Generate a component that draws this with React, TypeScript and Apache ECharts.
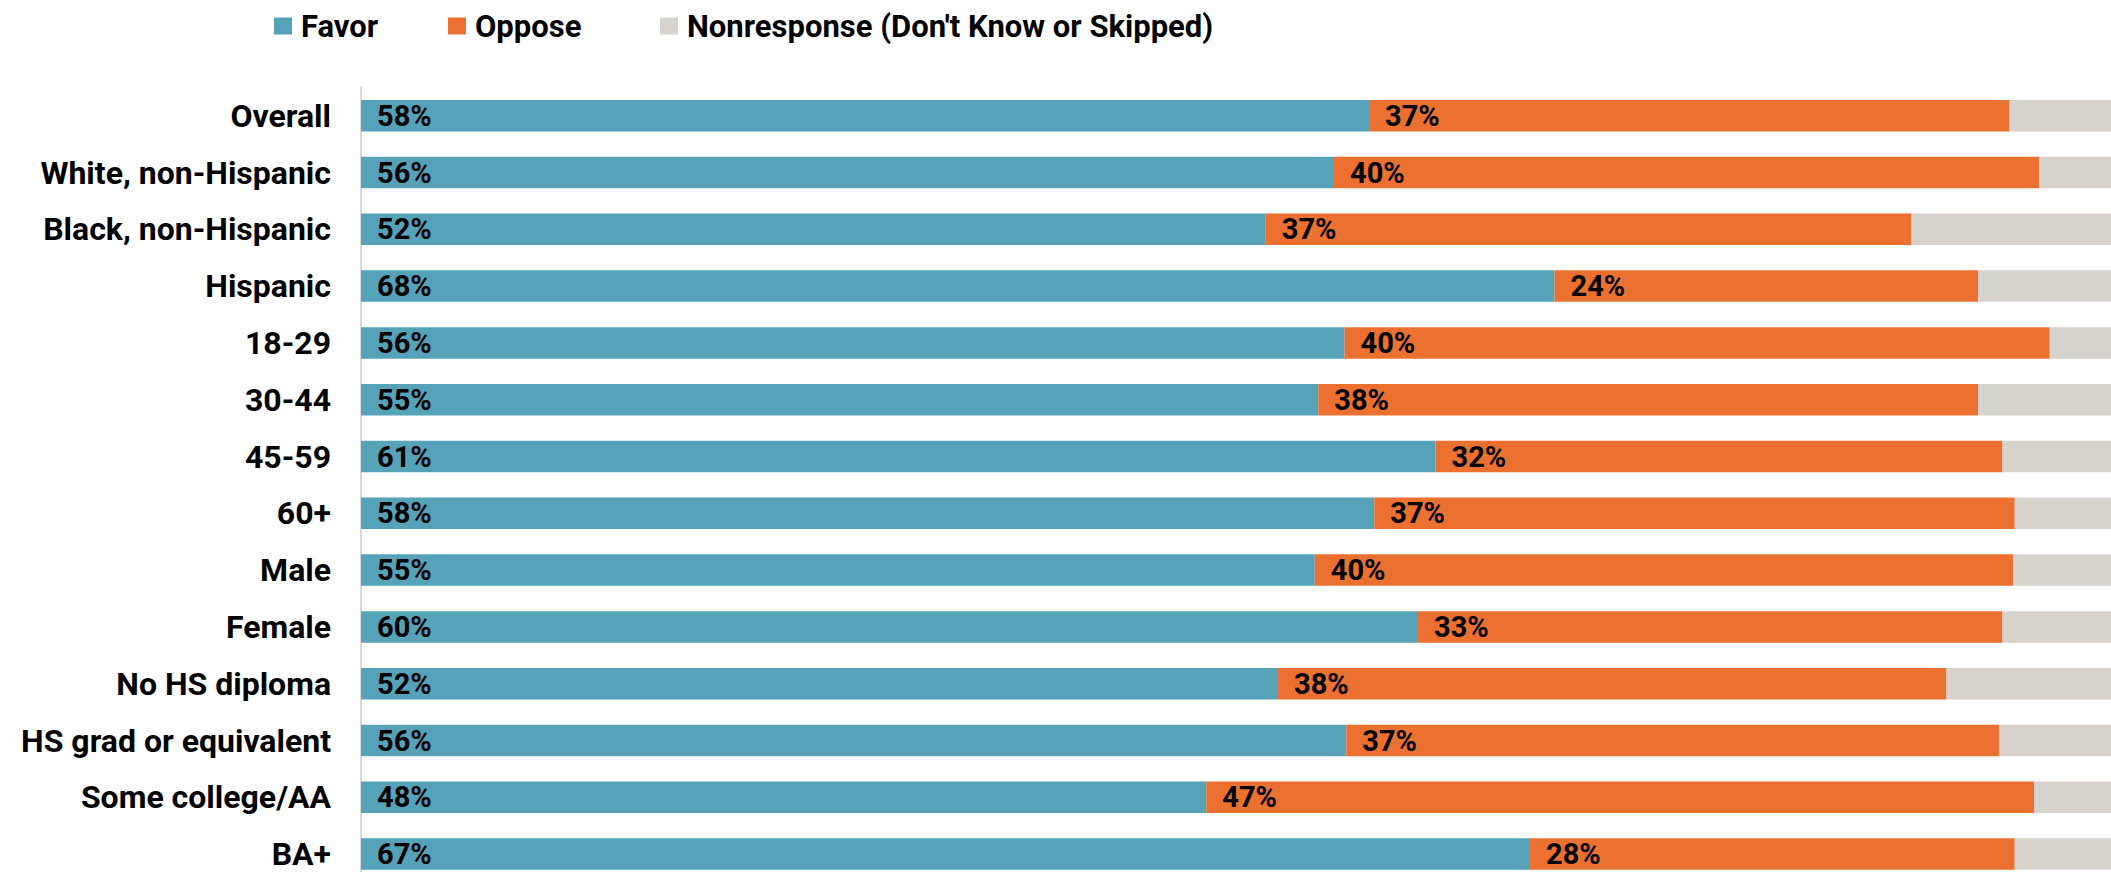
import React, { useEffect, useRef } from "react";
import * as echarts from "echarts";

const categories = [
  "Overall",
  "White, non-Hispanic",
  "Black, non-Hispanic",
  "Hispanic",
  "18-29",
  "30-44",
  "45-59",
  "60+",
  "Male",
  "Female",
  "No HS diploma",
  "HS grad or equivalent",
  "Some college/AA",
  "BA+",
];

const favor = [57.6, 55.6, 51.7, 68.2, 56.2, 54.7, 61.4, 57.9, 54.5, 60.4, 52.4, 56.3, 48.3, 66.8];
const oppose = [36.6, 40.3, 36.9, 24.2, 40.3, 37.7, 32.4, 36.6, 39.9, 33.4, 38.2, 37.3, 47.3, 27.7];
const nonresponse = favor.map((f, i) => Math.max(0, +(100 - f - oppose[i]).toFixed(1)));

const seriesNames = ["Favor", "Oppose", "Nonresponse (Don't Know or Skipped)"];
const colors = ["#55A2B9", "#EC7030", "#D7D2CC"];
const legendLefts = [274, 448, 660];

const FONT = "Roboto";
const CHART_H = 892;

export default function App() {
  const ref = useRef<HTMLDivElement>(null);

  useEffect(() => {
    if (!ref.current) return;
    const chart = echarts.init(ref.current, null, { renderer: "svg" });
    const labelStyle = {
      show: true,
      position: "insideLeft" as const,
      distance: 16,
      color: "#000",
      fontFamily: FONT,
      fontWeight: "bold" as const,
      fontSize: 29,
      formatter: (p: any) => Math.round(p.value) + "%",
    };
    const data = [favor, oppose, nonresponse];
    chart.setOption({
      animation: false,
      color: colors,
      legend: seriesNames.map((name, i) => ({
        left: legendLefts[i],
        top: 9,
        padding: 0,
        itemWidth: 18,
        itemHeight: 17,
        icon: "rect",
        textStyle: {
          fontFamily: FONT,
          fontWeight: "bold",
          fontSize: 31,
          lineHeight: 34,
          color: "#000",
          padding: [0, 0, 0, 4],
        },
        data: [name],
      })),
      grid: {
        left: 361,
        right: 0,
        top: 87.3,
        height: 795.2,
        containLabel: false,
      },
      xAxis: {
        type: "value",
        min: 0,
        max: 100,
        show: false,
      },
      yAxis: {
        type: "category",
        inverse: true,
        data: categories,
        axisTick: { show: false },
        axisLine: { show: true, lineStyle: { color: "#D9D9D9", width: 2 } },
        axisLabel: {
          margin: 30,
          fontFamily: FONT,
          fontWeight: "bold",
          fontSize: 32,
          color: "#000",
        },
      },
      series: seriesNames.map((name, i) => ({
        name,
        type: "bar",
        stack: "total",
        barCategoryGap: "44.5%",
        data: data[i],
        itemStyle: { color: colors[i] },
        label: i < 2 ? labelStyle : { show: false },
      })),
    });
    return () => chart.dispose();
  }, []);

  return (
    <div style={{ position: "absolute", left: 0, top: 0, width: 2111, height: 872, overflow: "hidden" }}>
      <div ref={ref} style={{ width: 2111, height: CHART_H }} />
    </div>
  );
}
